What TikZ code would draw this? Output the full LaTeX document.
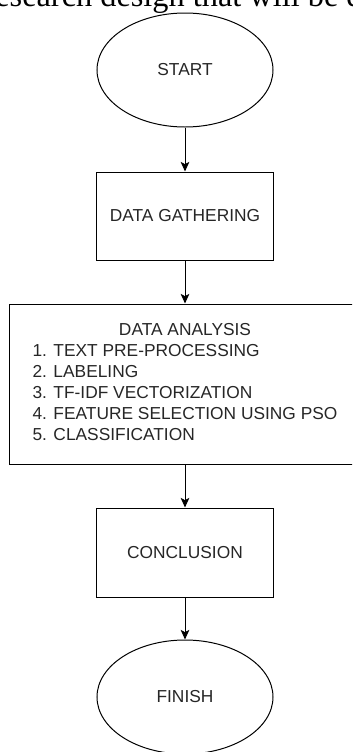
\documentclass[tikz,border=0pt]{standalone}
\usepackage{fontspec}
\setmainfont{Liberation Serif}
\newfontfamily\flowfont{Liberation Sans}
\usetikzlibrary{shapes.geometric,arrows.meta}

\begin{document}
\begin{tikzpicture}[x=0.03cm, y=-0.03cm,
        every node/.style={inner sep=0pt}]
        \tikzstyle{termStyle} = [ellipse, draw=black, line width=0.85pt,
            minimum width=5.28cm, minimum height=3.42cm, text=black!85,
            font=\flowfont\fontsize{14.8}{17.9}\selectfont]
        \tikzstyle{boxStyle} = [rectangle, draw=black, line width=0.85pt,
            text=black!85, font=\flowfont\fontsize{14.8}{17.9}\selectfont]
        \tikzstyle{flowArrow} = [draw=black, line width=0.85pt,
            -{Stealth[length=0.29cm, width=0.26cm, inset=0.07cm]}]
        \useasboundingbox (0,0) rectangle (352,752);
        \clip (0,0) rectangle (352,752);
        \node[anchor=base west] (caption) at (-4.9,6.5)
            {\fontsize{27.6}{30}\selectfont esearch design that will be d};
        \node[termStyle] (start) at (185,70) {START};
        \node[boxStyle, minimum width=5.28cm, minimum height=2.64cm]
            (gather) at (185,216) {DATA GATHERING};
        \node[boxStyle, minimum width=10.5cm, minimum height=4.8cm]
            (analysis) at (185,384) {\begin{tabular}{@{}l@{}}
                \multicolumn{1}{c}{DATA ANALYSIS}\\
                1. TEXT PRE-PROCESSING\\
                2. LABELING\\
                3. TF-IDF VECTORIZATION\\
                4. FEATURE SELECTION USING PSO\\
                5. CLASSIFICATION
            \end{tabular}};
        \node[boxStyle, minimum width=5.28cm, minimum height=2.67cm]
            (conclusion) at (185,552.5) {CONCLUSION};
        \node[termStyle] (finish) at (185,697) {FINISH};
        \foreach \from/\to in {start/gather, gather/analysis,
                                analysis/conclusion, conclusion/finish}
            \path[flowArrow] (\from) edge (\to);
    \end{tikzpicture}
\end{document}
